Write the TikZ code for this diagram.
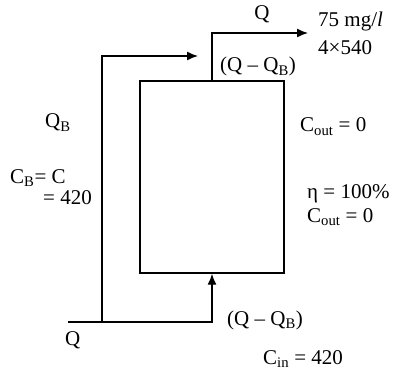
\documentclass[tikz,border=0pt]{standalone}
\usepackage{fontspec}
\setmainfont{Liberation Serif}
\usetikzlibrary{arrows.meta}

\tikzset{
	pipe/.style={line width=1.4pt},
	flow/.style={pipe, -{Latex[length=11pt,width=9pt]}},
	lbl/.style={font=\fontsize{21}{23}\selectfont, inner sep=0pt}
}

\begin{document}
\begin{tikzpicture}[x=1pt, y=-1pt, line cap=butt, line join=miter]
		
		\useasboundingbox (0,0) rectangle (403,371);
		
		% ---------- Tank ----------
		\node[draw, pipe, minimum width=144pt, minimum height=192pt, inner sep=0pt]
		(tank) at (212,177) {};
		
		% ---------- Inlet and bypass ----------
		\coordinate (inlet) at (68,322);
		\coordinate (split) at (102,322);
		\coordinate (bypassend) at (198,56);
		
		\draw[pipe] (inlet) -- (split);
		\draw[flow] (split) -| (tank.south);
		\draw[flow] (split) |- (bypassend);
		
		% ---------- Outlet ----------
		\coordinate (outletend) at (308,33);
		\draw[flow] (tank.north) |- (outletend);
		
		% labels top
		\node[lbl, anchor=base] (qout) at (262,20) {Q};
		\node[lbl, anchor=base west] (conc) at (318,27) {75 mg/\textit{l}};
		\node[lbl, anchor=base west] (load) at (318,55) {4×540};
		\node[lbl, anchor=base west] (qtop) at (220,72) {(Q – Q\textsubscript{B})};
		
		% labels left
		\node[lbl, anchor=base west] (qb) at (45,128) {Q\textsubscript{B}};
		\node[lbl, anchor=base west] (cb) at (10,183) {C\textsubscript{B}= C};
		\node[lbl, anchor=base east] (cbval) at (92,204) {= 420};
		
		% labels right
		\node[lbl, anchor=base west] (cout1) at (300,132) {C\textsubscript{out} = 0};
		\node[lbl, anchor=base west] (eff) at (307,198) {η = 100\%};
		\node[lbl, anchor=base west] (cout2) at (307,222) {C\textsubscript{out} = 0};
		
		% labels bottom
		\node[lbl, anchor=base west] (qbot) at (227,325) {(Q – Q\textsubscript{B})};
		\node[lbl, anchor=base west] (qin) at (65,345) {Q};
		\node[lbl, anchor=base west] (cin) at (263,364) {C\textsubscript{in} = 420};
		
	\end{tikzpicture}
\end{document}
